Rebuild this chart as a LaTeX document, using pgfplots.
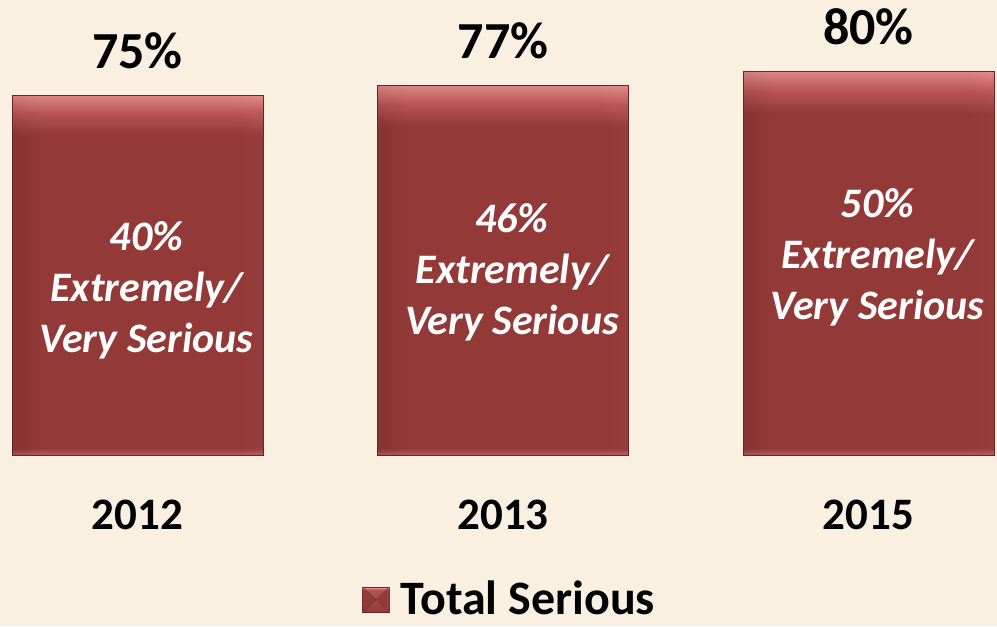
\documentclass[border=0pt]{standalone}
\usepackage{pgfplots}
\pgfplotsset{compat=1.18}
\usepackage{fontspec}
\setmainfont{Carlito}
\definecolor{bgcream}{HTML}{FAF0E2}
\definecolor{barmain}{HTML}{933A38}
\definecolor{barmid}{HTML}{C86260}
\definecolor{barlight}{HTML}{FFA8A6}
\definecolor{bardark}{HTML}{6A2422}
\definecolor{barright}{HTML}{A04846}
\definecolor{barborder}{HTML}{6C2422}
\definecolor{barbottom}{HTML}{C8706E}
\pgfdeclareverticalshading{barv}{100bp}{color(0bp)=(barbottom); color(25bp)=(barbottom); color(25.9bp)=(barmain); color(69.5bp)=(barmain); color(72.5bp)=(barmid); color(75bp)=(barlight); color(100bp)=(barlight)}
\pgfdeclarehorizontalshading{barh}{100bp}{color(0bp)=(bardark); color(25bp)=(bardark); color(31bp)=(barmain); color(69bp)=(barmain); color(75bp)=(barright); color(100bp)=(barright)}
\pgfplotsset{bevelbar/.style={shade, shading=barh, draw=barborder, bar shift=0pt,
  postaction={shade, shading=barv, fill opacity=0.7}}}
\begin{document}
\begin{tikzpicture}
\begin{axis}[
  scale only axis, width=997pt, height=626pt,
  xmin=-0.37620, xmax=2.35157,
  ymin=-35.625, ymax=94.792,
  axis background/.style={fill=bgcream},
  axis line style={draw=none},
  ytick=\empty,
  xtick={0,1,2}, xticklabels={2012,2013,2015},
  major tick length=0pt,
  xticklabel style={anchor=base, yshift=97pt, font=\fontsize{45}{54}\selectfont\bfseries},
  ybar, bar width=251pt,
  /pgf/number format/assume math mode=true,
  nodes near coords={\pgfmathprintnumber{\pgfplotspointmeta}\%},
  nodes near coords style={anchor=base, yshift=27pt, font=\fontsize{52}{60}\selectfont\bfseries, text=black},
  legend style={at={(rel axis cs:0.3631,0.019)}, anchor=south west, draw=none, fill=none,
    inner sep=0pt, font=\fontsize{48}{56}\selectfont\bfseries,
    nodes={inner sep=0pt, text depth=0pt},
    /tikz/every odd column/.append style={column sep=11pt}},
  legend image code/.code={%
    \shade[top color=barlight, bottom color=barmain, draw=barborder] (0pt,-15pt) rectangle (27pt,10pt);
    \fill[bardark, opacity=0.45] (0pt,-15pt) -- (13.5pt,-2.5pt) -- (0pt,10pt) -- cycle;
    \fill[barmain, opacity=0.5] (27pt,-15pt) -- (13.5pt,-2.5pt) -- (27pt,10pt) -- cycle;
  },
]
\addplot[bevelbar] coordinates {(0,75)};
\addlegendentry{Total Serious}
\addplot[bevelbar, forget plot] coordinates {(1,77)};
\addplot[bevelbar, forget plot] coordinates {(2,80)};
\begin{scope}[every node/.style={text=white, font=\fontsize{42}{51}\selectfont\bfseries\itshape, align=center}]
\node at ([xshift=9pt]axis cs:0,34.375) {40\%\\Extremely/\\Very Serious};
\node at ([xshift=9pt]axis cs:1,38.125) {46\%\\Extremely/\\Very Serious};
\node at ([xshift=9pt]axis cs:2,41.25) {50\%\\Extremely/\\Very Serious};
\end{scope}
\end{axis}
\end{tikzpicture}
\end{document}
